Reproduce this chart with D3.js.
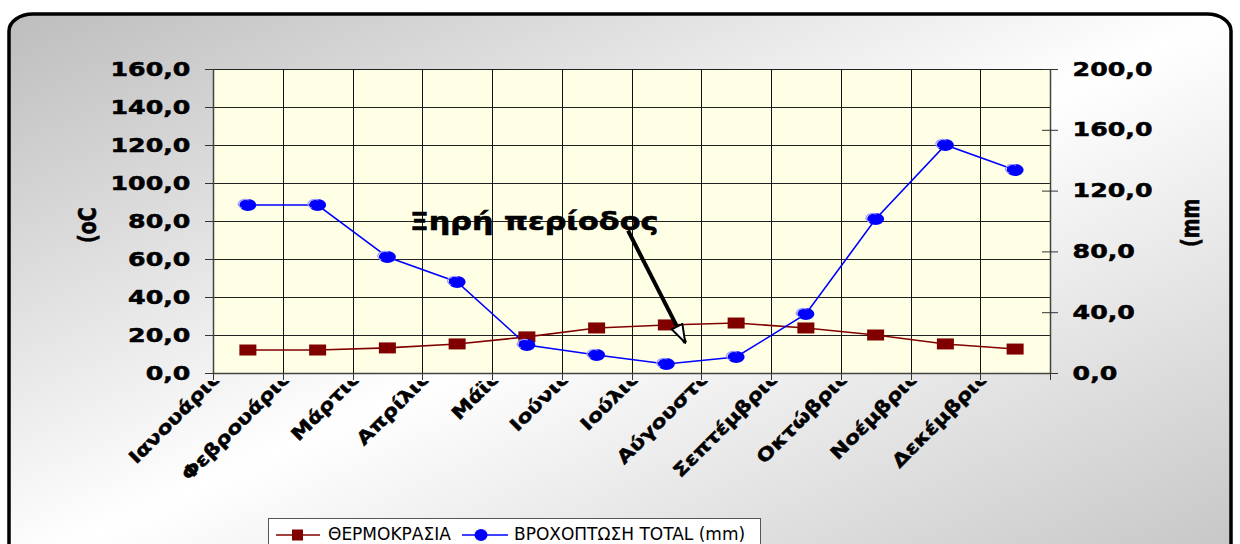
<!DOCTYPE html>
<html>
<head>
<meta charset="utf-8">
<script src="https://cdn.jsdelivr.net/npm/d3@7"></script>
<style>
html,body{margin:0;padding:0;background:#fff;}
svg{display:block;}
</style>
</head>
<body>
<svg id="chart" width="1240" height="544"></svg>
<script>
const months = ["Ιανουάριος","Φεβρουάριος","Μάρτιος","Απρίλιος","Μάϊος","Ιούνιος","Ιούλιος","Αύγουστος","Σεπτέμβριος","Οκτώβριος","Νοέμβριος","Δεκέμβριος"];
const temperature = [12.1, 12.1, 13.2, 15.3, 19.0, 23.7, 25.3, 26.3, 23.7, 20.0, 15.3, 12.6];
const rainfall = [110.5, 110.5, 76.3, 59.9, 18.4, 11.8, 5.9, 10.5, 38.8, 101.3, 150.0, 133.5];
const leftTicks = [0, 20, 40, 60, 80, 100, 120, 140, 160];
const rightTicks = [0, 40, 80, 120, 160, 200];
const seriesNames = ["ΘΕΡΜΟΚΡΑΣΙΑ", "ΒΡΟΧΟΠΤΩΣΗ TOTAL (mm)"];
const leftTitle = "(oC";
const rightTitle = "(mm";
const annotationText = "Ξηρή περίοδος";

const svg = d3.select("#chart");
const W = 1240, H = 544;
const m = {left: 213, right: 1050, top: 69, bottom: 373};
const TEMP = "#800000", RAIN = "#0000ff";
const fmt = v => d3.format(".1f")(v).replace(".", ",");

const defs = svg.append("defs");
const grad = defs.append("linearGradient").attr("id","bg").attr("x1",0).attr("y1",0).attr("x2",1).attr("y2",1);
grad.append("stop").attr("offset","0%").attr("stop-color","#bdbdbd");
grad.append("stop").attr("offset","50%").attr("stop-color","#ffffff");
grad.append("stop").attr("offset","100%").attr("stop-color","#c4c4c4");
defs.append("clipPath").attr("id","lblclip").append("rect").attr("x",0).attr("y",381).attr("width",W).attr("height",H);
defs.append("marker").attr("id","arrow").attr("viewBox","0 0 20 14").attr("refX",19).attr("refY",7)
  .attr("markerWidth",20).attr("markerHeight",14).attr("markerUnits","userSpaceOnUse").attr("orient","auto")
  .append("path").attr("d","M1,1 L19,7 L1,13 Z").attr("fill","#fff").attr("stroke","#000").attr("stroke-width",2);

// chart frame
svg.append("rect").attr("x",9).attr("y",14).attr("width",1222).attr("height",560)
  .attr("rx",24).attr("ry",17).attr("fill","url(#bg)").attr("stroke","#000").attr("stroke-width",3.5);

// scales
const x = d3.scaleBand().domain(months).range([m.left, m.right]).paddingInner(0).paddingOuter(0);
const xi = d3.scaleLinear().domain([0, months.length]).range([m.left, m.right]);
const yL = d3.scaleLinear().domain([0,160]).range([m.bottom, m.top]);
const yR = d3.scaleLinear().domain([0,200]).range([m.bottom, m.top]);
const bw = x.bandwidth();

// plot area
svg.append("rect").attr("x",m.left).attr("y",m.top).attr("width",m.right-m.left).attr("height",m.bottom-m.top)
  .attr("fill","#ffffe6");

// gridlines
const grid = svg.append("g");
grid.selectAll("line.h").data(leftTicks.slice(1)).join("line")
  .attr("x1",m.left).attr("x2",m.right).attr("y1",d=>Math.round(yL(d))+0.5).attr("y2",d=>Math.round(yL(d))+0.5)
  .attr("stroke","#222").attr("stroke-width",1);
grid.selectAll("line.v").data(months.slice(1)).join("line")
  .attr("x1",d=>Math.round(x(d))+0.5).attr("x2",d=>Math.round(x(d))+0.5).attr("y1",m.top).attr("y2",m.bottom)
  .attr("stroke","#111").attr("stroke-width",1);

const boldText = sel => sel.attr("font-family","DejaVu Sans").attr("font-weight","bold")
  .attr("fill","#000").attr("stroke","#000").attr("stroke-width",0.5);

// left axis
const axL = svg.append("g").attr("transform",`translate(${m.left},0)`)
  .call(d3.axisLeft(yL).tickValues(leftTicks).tickFormat(fmt).tickSizeInner(8).tickSizeOuter(0).tickPadding(9));
axL.select(".domain").attr("stroke","#444").attr("stroke-width",1.5);
axL.selectAll(".tick line").attr("stroke","#333");
axL.selectAll(".tick text").call(boldText).attr("font-size",19).attr("transform","scale(1.33,1)");

// right axis
const axR = svg.append("g").attr("transform",`translate(${m.right},0)`)
  .call(d3.axisRight(yR).tickValues(rightTicks).tickFormat(fmt).tickSizeInner(8).tickSizeOuter(0).tickPadding(9));
axR.select(".domain").attr("stroke","#444").attr("stroke-width",1.5);
axR.selectAll(".tick line").attr("x1",-8).attr("stroke","#333");
axR.selectAll(".tick text").call(boldText).attr("font-size",19).attr("transform","scale(1.33,1)");

// bottom axis line + ticks
svg.append("line").attr("x1",m.left).attr("x2",m.right).attr("y1",m.bottom+0.5).attr("y2",m.bottom+0.5)
  .attr("stroke","#444").attr("stroke-width",1.5);
svg.append("g").selectAll("line").data(d3.range(months.length+1)).join("line")
  .attr("x1",d=>Math.round(xi(d))+0.5).attr("x2",d=>Math.round(xi(d))+0.5).attr("y1",m.bottom).attr("y2",m.bottom+7)
  .attr("stroke","#333");

// x labels
svg.append("g").attr("clip-path","url(#lblclip)").selectAll("text").data(months).join("text")
  .attr("transform",d=>`translate(${x(d)+19},${m.bottom-4}) rotate(-45) scale(1.22,1)`)
  .attr("text-anchor","end").call(boldText).attr("stroke-width",0.5).attr("font-size",18).text(d=>d);

// axis titles
svg.append("text").attr("transform","translate(96,243) rotate(-90) scale(1,1.3)")
  .call(boldText).attr("font-size",19).text(leftTitle);
svg.append("text").attr("transform","translate(1199,247) rotate(-90) scale(1,1.3)")
  .call(boldText).attr("font-size",19).text(rightTitle);

// temperature line
svg.append("path").datum(temperature)
  .attr("d", d3.line().x((d,i)=>x(months[i])+bw/2).y(d=>yL(d)))
  .attr("fill","none").attr("stroke",TEMP).attr("stroke-width",1.6);
// rainfall line
svg.append("path").datum(rainfall)
  .attr("d", d3.line().x((d,i)=>x(months[i])+bw/2).y(d=>yR(d)))
  .attr("fill","none").attr("stroke",RAIN).attr("stroke-width",1.6);

// markers
svg.append("g").selectAll("rect").data(temperature).join("rect")
  .attr("x",(d,i)=>x(months[i])+bw/2-8.5).attr("y",d=>yL(d)-5.5).attr("width",17).attr("height",11)
  .attr("fill",TEMP);
const rg = svg.append("g").selectAll("g").data(rainfall).join("g")
  .attr("transform",(d,i)=>`translate(${x(months[i])+bw/2},${yR(d)})`);
rg.append("ellipse").attr("rx",8.5).attr("ry",6).attr("fill",RAIN);
rg.append("path").attr("d","M-6,3 A7,4.5 0 0 1 1,-5").attr("fill","none").attr("stroke","#9a9aff").attr("stroke-width",1.2);

// annotation
svg.append("line").attr("x1",xi(5.95)).attr("y1",yL(75)).attr("x2",xi(6.77)).attr("y2",yL(16))
  .attr("stroke","#000").attr("stroke-width",4).attr("marker-end","url(#arrow)");
svg.append("text").attr("transform",`translate(${xi(2.82)},${yL(75.3)}) scale(1.26,1)`)
  .call(boldText).attr("stroke-width",0.6).attr("font-size",24).text(annotationText);

// legend
const lg = svg.append("g");
lg.append("rect").attr("x",268.5).attr("y",518.5).attr("width",492).attr("height",40).attr("fill","#fff").attr("stroke","#555");
lg.append("line").attr("x1",276).attr("x2",320).attr("y1",535).attr("y2",535).attr("stroke",TEMP).attr("stroke-width",1.6);
lg.append("rect").attr("x",292).attr("y",529.5).attr("width",11).attr("height",11).attr("fill",TEMP);
lg.append("text").attr("x",328).attr("y",540).attr("font-family","DejaVu Sans").attr("font-size",17).attr("fill","#000").text(seriesNames[0]);
lg.append("line").attr("x1",462).attr("x2",508).attr("y1",535).attr("y2",535).attr("stroke",RAIN).attr("stroke-width",1.6);
lg.append("ellipse").attr("cx",481).attr("cy",535).attr("rx",6.5).attr("ry",6).attr("fill",RAIN);
lg.append("text").attr("x",514).attr("y",540).attr("font-family","DejaVu Sans").attr("font-size",17).attr("fill","#000").text(seriesNames[1]);
</script>
</body>
</html>
